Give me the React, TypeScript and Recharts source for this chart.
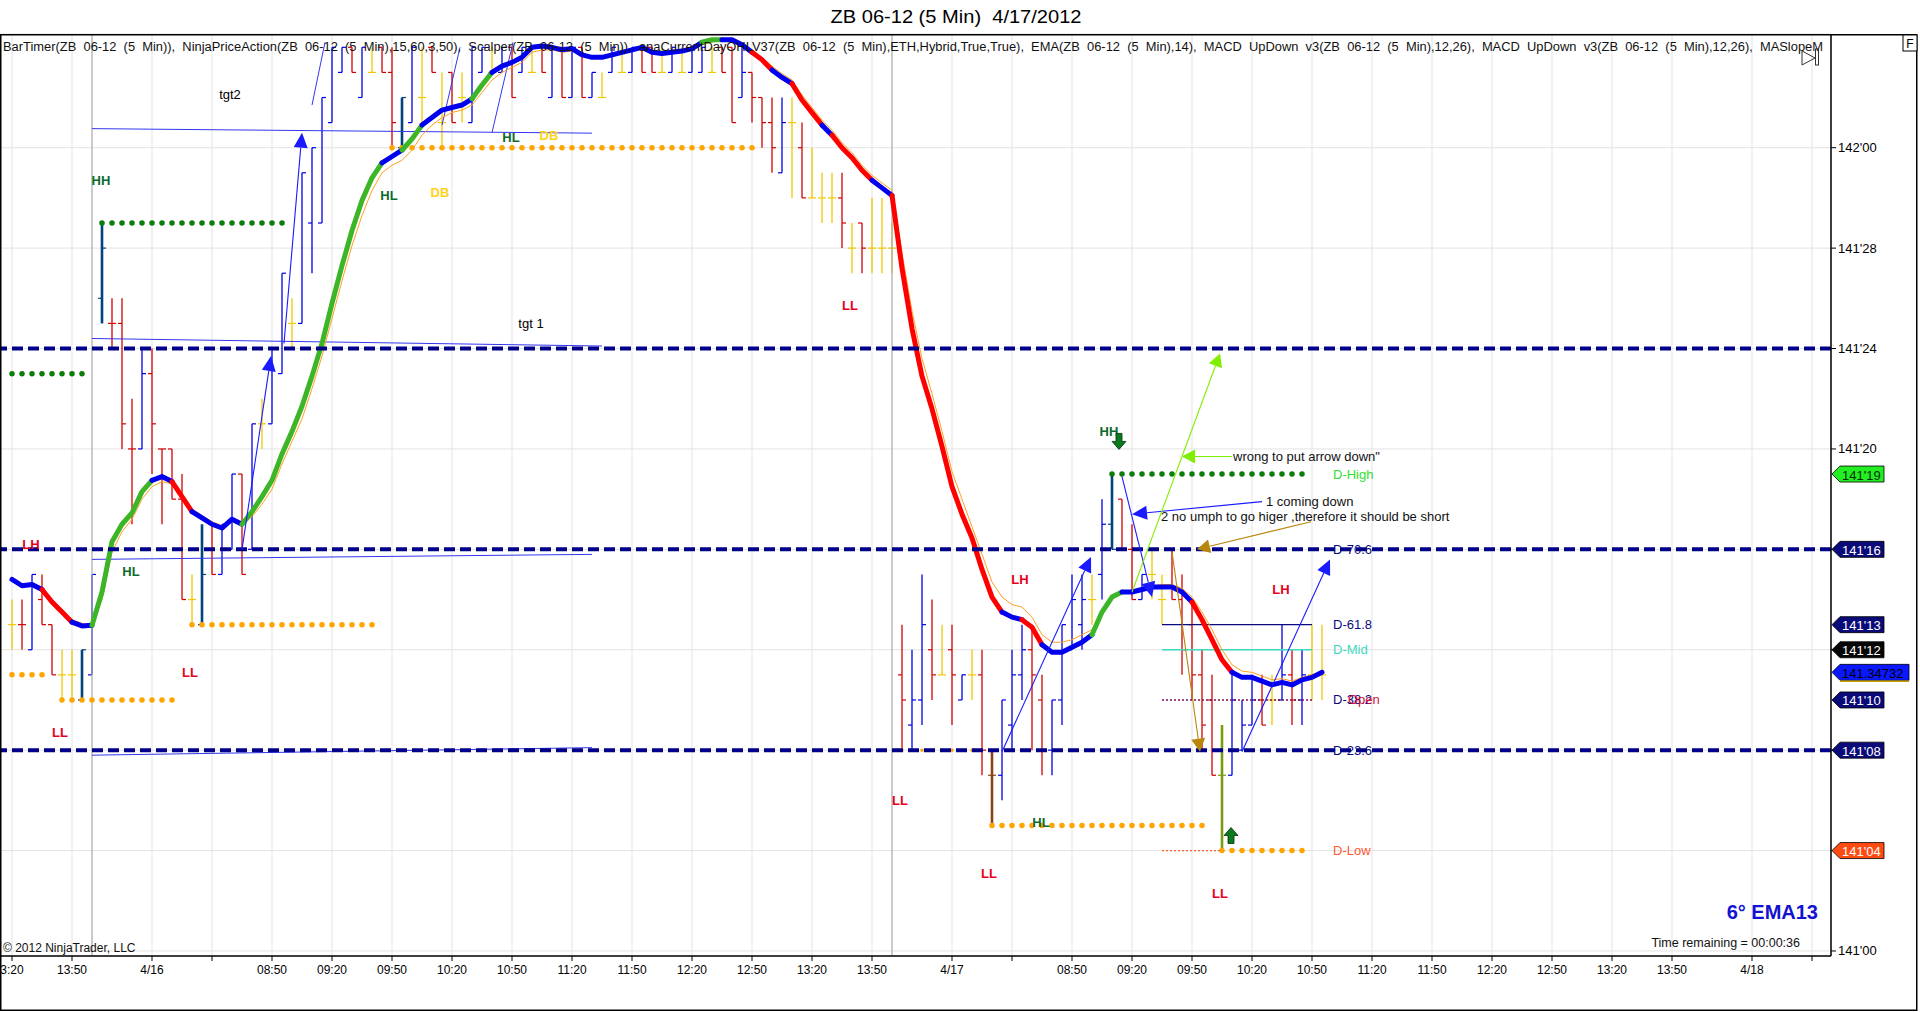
import React from "react";
import {
  ComposedChart, Bar, Line, XAxis, YAxis, CartesianGrid, ReferenceLine, ReferenceDot,
} from "recharts";

// prices are in 32nds above 141'00 (so 19 = 141'19, 32 = 142'00)
const HIGH = [
  14, 14, 15, 15, 13, 12, 12, 12, 15, 29,
  26, 26, 22, 24, 24, 20, 20, 19, 15, 17,
  17, 17, 19, 19, 21, 22, 24, 27, 26, 31,
  32, 34, 36, 36, 36, 36, 36, 36, 36, 34,
  36, 36, 36, 35, 35, 35, 36, 36, 36, 36,
  36, 36, 36, 36, 36, 36, 36, 36, 35, 35,
  36, 36, 36, 36, 36, 36, 36, 36, 36, 36,
  36, 36, 36, 36, 35, 34, 34, 34, 34, 33,
  32, 31, 31, 31, 29, 29, 30, 30, 29, 13,
  12, 15, 14, 13, 13, 11, 12, 12, 8, 10,
  12, 13, 13, 11, 10, 13, 15, 15, 15, 18,
  19, 18, 17, 15, 16, 15, 16, 15, 14, 12,
  11, 9, 11, 10, 11, 11, 11, 13, 12, 12, 13, 13,
];
const LOW = [
  12, 12, 12, 13, 11, 10, 10, 10, 11, 25,
  24, 20, 17, 20, 19, 17, 18, 14, 13, 13,
  15, 15, 16, 15, 16, 20, 21, 23, 24, 25,
  27, 29, 33, 35, 35, 34, 35, 35, 32, 32,
  33, 33, 35, 32, 33, 33, 33, 35, 35, 35,
  34, 35, 35, 35, 34, 34, 34, 34, 34, 34,
  35, 35, 35, 35, 35, 35, 35, 35, 35, 35,
  35, 35, 33, 34, 33, 32, 31, 31, 30, 30,
  30, 29, 29, 28, 27, 27, 27, 27, 27, 8,
  8, 9, 10, 11, 9, 10, 10, 7, 5, 6,
  8, 10, 8, 7, 7, 9, 12, 12, 13, 14,
  16, 16, 14, 14, 14, 13, 14, 11, 10, 8,
  7, 4, 7, 8, 9, 9, 9, 10, 9, 9, 10, 10,
];
const OPEN = [
  13, 13, 12, 14, 13, 11, 11, 10, 11, 26,
  25, 25, 20, 20, 23, 20, 20, 18, 14, 13,
  17, 15, 16, 19, 16, 21, 21, 23, 25, 25,
  29, 29, 33, 35, 36, 34, 35, 36, 35, 32,
  33, 34, 36, 33, 35, 34, 33, 35, 35, 35,
  36, 35, 35, 36, 34, 36, 34, 36, 34, 34,
  35, 35, 35, 36, 36, 35, 35, 35, 35, 35,
  35, 36, 36, 34, 35, 34, 33, 31, 33, 32,
  30, 30, 30, 30, 28, 29, 28, 28, 28, 11,
  9, 10, 12, 11, 12, 10, 11, 11, 7, 7,
  9, 11, 12, 10, 8, 10, 12, 13, 14, 15,
  17, 18, 16, 14, 15, 14, 16, 14, 13, 11,
  10, 7, 7, 8, 9, 10, 10, 10, 11, 10, 11, 11,
];
const CLOSE = [
  13, 13, 15, 13, 11, 11, 11, 12, 15, 28,
  25, 21, 20, 23, 21, 20, 18, 14, 14, 15,
  15, 17, 19, 15, 21, 21, 24, 27, 25, 31,
  32, 34, 36, 36, 35, 36, 35, 35, 33, 34,
  36, 34, 35, 33, 33, 34, 36, 36, 35, 36,
  34, 36, 35, 35, 36, 34, 36, 34, 35, 34,
  36, 35, 36, 35, 35, 35, 36, 35, 36, 36,
  35, 35, 33, 35, 34, 33, 32, 33, 33, 30,
  30, 30, 30, 29, 28, 28, 28, 28, 28, 10,
  10, 13, 11, 11, 11, 11, 11, 8, 7, 10,
  11, 12, 11, 8, 10, 13, 14, 14, 14, 17,
  16, 16, 14, 15, 15, 14, 14, 12, 11, 9,
  7, 7, 10, 9, 10, 9, 10, 11, 10, 11, 11, 11,
];
// b up, r down, y doji, n/o/g painted bars
const BAR_COL =
  "yrbrryynbn" + "rrrbrrrryn" + "rbbrbybbyb" + "bbbbrbyrrn" + "byryrybbyb" +
  "rbyrbrbrby" + "bybrrybybb" + "yrrbrrrbyr" + "yyyryryyyr" + "bbryrbyrob" +
  "bbrrbbbbyb" + "nrrbyyrrrr" + "rgbbbrybrb" + "yy";

const EMA = [
  14.8, 14.55, 14.6, 14.4, 13.9, 13.5, 13.1, 12.95, 12.98, 14.3,
  16.3, 17.0, 17.45, 18.3, 18.75, 18.9, 18.7, 18.1, 17.5, 17.25,
  17.0, 16.85, 17.2, 17.0, 17.5, 18.1, 18.75, 19.8, 20.7, 21.7,
  22.9, 24.2, 25.8, 27.3, 28.7, 29.9, 30.8, 31.4, 31.65, 31.9,
  32.35, 32.9, 33.2, 33.5, 33.6, 33.7, 33.95, 34.5, 35.0, 35.25,
  35.4, 35.6, 36.0, 36.05, 36.0, 35.9, 35.95, 35.7, 35.6, 35.6,
  35.7, 35.8, 35.9, 36.0, 35.8, 35.75, 35.8, 35.85, 35.95, 36.2,
  36.3, 36.3, 36.3, 36.1, 35.8, 35.5, 35.1, 34.8, 34.55, 33.9,
  33.4, 32.9, 32.5, 32.0, 31.6, 31.1, 30.7, 30.4, 30.1, 27.2,
  24.8, 22.9, 21.6, 20.1, 18.5, 17.4, 16.45, 15.2, 14.1, 13.5,
  13.3, 13.2, 12.9, 12.2, 11.9, 11.9, 12.1, 12.3, 12.6, 13.5,
  14.1, 14.3, 14.3, 14.4, 14.5, 14.5, 14.5, 14.3, 13.9, 13.2,
  12.4, 11.6, 11.1, 10.9, 10.9, 10.75, 10.6, 10.7, 10.6, 10.8, 10.9, 11.1,
];
const EMA_SLOW = [
  14.9, 14.6, 14.6, 14.5, 14.0, 13.6, 13.2, 13.05, 13.0, 14.0,
  15.9, 16.7, 17.2, 18.0, 18.5, 18.7, 18.6, 18.1, 17.6, 17.35,
  17.1, 16.95, 17.1, 16.95, 17.3, 17.8, 18.4, 19.4, 20.3, 21.2,
  22.4, 23.7, 25.2, 26.7, 28.1, 29.3, 30.3, 31.0, 31.3, 31.5,
  31.9, 32.5, 32.9, 33.2, 33.4, 33.5, 33.7, 34.2, 34.7, 35.0,
  35.2, 35.4, 35.8, 35.9, 35.9, 35.8, 35.85, 35.65, 35.55, 35.55,
  35.65, 35.75, 35.85, 35.95, 35.8, 35.75, 35.8, 35.85, 35.9, 36.1,
  36.2, 36.3, 36.3, 36.1, 35.85, 35.6, 35.25, 34.95, 34.7, 34.1,
  33.6, 33.1, 32.7, 32.2, 31.8, 31.3, 30.9, 30.6, 30.3, 27.8,
  25.5, 23.6, 22.2, 20.7, 19.1, 18.0, 16.9, 15.8, 14.7, 14.1,
  13.8, 13.7, 13.3, 12.6, 12.3, 12.3, 12.4, 12.6, 12.8, 13.5,
  14.0, 14.3, 14.35, 14.45, 14.55, 14.6, 14.6, 14.45, 14.1, 13.5,
  12.8, 12.0, 11.4, 11.15, 11.1, 10.95, 10.8, 10.85, 10.75, 10.9, 11.0, 11.15,
];
// slope of each EMA segment i -> i+1 : u up, d down, f flat
const TREND =
  "fff" + "ddd" + "ff" + "uuuuuu" + "ff" + "dd" + "fffff" + "uuuuuuuuuuuuuu" +
  "ff" + "uu" + "fffff" + "uu" + "fffffffffffffffffffff" + "uu" + "fff" + "dd" +
  "ff" + "ddd" + "f" + "dddd" + "ff" + "ddddddddddd" + "ff" + "dd" + "fffff" +
  "uuu" + "fffffff" + "dddd" + "fffffffff";

const X_TICKS = [0, 6, 14, 20, 26, 32, 38, 44, 50, 56, 62, 68, 74, 80, 86,
  94, 100, 106, 112, 118, 124, 130, 136, 142, 148, 154, 160, 166, 174, 180];
const X_LABELS = ["3:20", "13:50", "4/16", "", "08:50", "09:20", "09:50", "10:20", "10:50",
  "11:20", "11:50", "12:20", "12:50", "13:20", "13:50",
  "4/17", "", "08:50", "09:20", "09:50", "10:20", "10:50", "11:20", "11:50", "12:20",
  "12:50", "13:20", "13:50", "4/18", ""];
const Y_TICKS = [0, 4, 8, 12, 16, 20, 24, 28, 32];
const SESSION_BREAKS = [8, 88];

const NAVY_LEVELS = [24, 16, 8];
// [from bar, to bar, price]
const GREEN_DOTS = [[9, 28, 29], [0, 8, 23], [110, 130, 19]];
const ORANGE_DOTS = [[0, 4, 11], [5, 17, 10], [18, 37, 13], [38, 75, 32], [98, 120, 5], [121, 130, 4]];
const SMALL_ORANGE_DOTS = [[89, 97, 8]];
// [x1, y1, x2, y2]
const TREND_LINES = [
  [8, 32.76, 58, 32.58], [8, 24.4, 59, 24.1], [8, 15.6, 58, 15.8], [8, 7.8, 58, 8.1],
  [30, 33.7, 31.3, 36.2], [43, 32.9, 44.8, 36.0], [48, 32.6, 50.1, 36.2],
];
const BLUE_ARROWS = [
  [23, 16.0, 25.9, 23.7], [27.2, 24.2, 29.0, 32.6], [99, 7.94, 107.9, 15.7],
  [123, 7.94, 131.8, 15.6], [111, 18.9, 114, 14.1], [125, 17.9, 112, 17.4],
];
const LIME_ARROWS = [[112, 14.3, 120.8, 23.8], [122, 19.7, 117, 19.7]];
const GOLD_ARROWS = [[129.9, 17.1, 118.5, 16.0], [116, 15.9, 118.8, 7.94]];

// swing labels: [text, bar, price]
const SWING_LABELS: [string, number, number][] = [
  ["HH", 8.9, 30.7], ["HL", 37.7, 30.1], ["DB", 42.8, 30.2], ["HL", 49.9, 32.4], ["DB", 53.7, 32.5],
  ["LH", 1.9, 16.2], ["HL", 11.9, 15.1], ["LL", 17.8, 11.1], ["LL", 4.8, 8.7], ["LL", 83.8, 25.7],
  ["LH", 100.8, 14.8], ["LL", 88.8, 6.0], ["LL", 97.7, 3.1], ["HL", 102.9, 5.1], ["HH", 109.7, 20.7],
  ["LH", 126.9, 14.4], ["LL", 120.8, 2.3],
];
const NOTES: [string, number, number][] = [
  ["tgt2", 21.8, 34.1],
  ["tgt 1", 51.9, 25.0],
];
const COMMENTS: [string, number, number][] = [
  ["wrong to put arrow down\"", 122.1, 19.7],
  ["1 coming down", 125.4, 17.9],
  ["2 no umph to go higer ,therefore it should be short", 114.9, 17.3],
];
const DAY_LEVELS: [string, number][] = [
  ["D-High", 19], ["D-70.6", 16], ["D-61.8", 13], ["D-Mid", 12], ["D-38.2", 10], ["D-23.6", 8], ["D-Low", 4],
];
const DAY_LEVEL_START = 115;
const DAY_LEVEL_END = 130;
const DAY_LABEL_X = 132.1;
const PRICE_TAGS: [string, number, string][] = [
  ["141'19", 19, "lime"], ["141'16", 16, "navy"], ["141'13", 13, "navy"], ["141'12", 12, "black"],
  ["141.34732", 11.1, "blue"], ["141'10", 10, "navy"], ["141'08", 8, "navy"], ["141'04", 4, "orange"],
];
const HH_DOWN_ARROW = [110.7, 20.3];
const LL_UP_ARROW = [121.9, 4.6];

const FONT = "Arial, 'Liberation Sans', Helvetica, sans-serif";
const X_MIN = -1.2, X_MAX = 181.9;
const Y_MIN = -0.2, Y_MAX = 36.53;

const BAR_COLORS: Record<string, string> = {
  b: "#0000e6", r: "#d40000", y: "#f2c800", n: "#00447f", o: "#8b4513", g: "#7a9a10",
};
const TREND_COLORS: Record<string, string> = { u: "#3cb527", d: "#ff0000", f: "#0000ee" };
const LABEL_COLORS: Record<string, string> = {
  HH: "#0b6b2c", HL: "#0b6b2c", LL: "#e8001c", LH: "#e8001c", DB: "#ffd21a",
};
const LEVEL_COLORS: Record<string, string> = {
  "D-High": "#2fe02f", "D-Mid": "#3fd8c0", "D-Low": "#ff5a30",
};
const TAG_STYLE: Record<string, { bg: string; fg: string; w: number }> = {
  lime: { bg: "#22ee22", fg: "#063006", w: 52 },
  navy: { bg: "#0a0a78", fg: "#ffffff", w: 52 },
  black: { bg: "#050505", fg: "#ffffff", w: 52 },
  blue: { bg: "#0a18ff", fg: "#000000", w: 77 },
  orange: { bg: "#ff4a12", fg: "#ffffff", w: 52 },
};

const LEGEND =
  "BarTimer(ZB  06-12  (5  Min)),  NinjaPriceAction(ZB  06-12  (5  Min),15,60,3,50),  Scalper(ZB  06-12  (5  Min)),  anaCurrentDayOHLV37(ZB  06-12  (5  Min),ETH,Hybrid,True,True),  EMA(ZB  06-12  (5  Min),14),  MACD  UpDown  v3(ZB  06-12  (5  Min),12,26),  MACD  UpDown  v3(ZB  06-12  (5  Min),12,26),  MASlopeM";

const fmtPrice = (v: number) => {
  const big = v >= 32 ? 142 : 141;
  const frac = v >= 32 ? v - 32 : v;
  return `${big}'${String(frac).padStart(2, "0")}`;
};
const fmtTime = (v: number) => {
  const k = X_TICKS.indexOf(v);
  return k >= 0 ? X_LABELS[k] : "";
};

// axis prices hidden behind a price tag
const covered = (v: number) => PRICE_TAGS.some(([, p]) => Math.abs(p - v) < 0.5);

const PriceTick = (p: any) => {
  const { x, y, payload } = p;
  if (covered(payload.value)) return <g />;
  return (
    <text x={x} y={y} fill="#000" fontSize={13} fontFamily={FONT} textAnchor="start" dominantBaseline="central">
      {fmtPrice(payload.value)}
    </text>
  );
};

const OhlcShape = (p: any) => {
  const { x, y, width, height, payload } = p;
  if (!payload || height == null || isNaN(y)) return <g />;
  const top = Math.min(y, y + height);
  const h = Math.abs(height);
  const cx = x + width / 2;
  const { hi, lo, open, close, col } = payload;
  const yOf = (v: number) => top + ((hi - v) / (hi - lo)) * h;
  const thick = col === "n" || col === "o" || col === "g";
  const c = BAR_COLORS[col];
  return (
    <g stroke={c}>
      <line x1={cx} x2={cx} y1={top} y2={top + h} strokeWidth={thick ? 2.6 : 1.3} />
      <line x1={cx - 4} x2={cx} y1={yOf(open)} y2={yOf(open)} strokeWidth={1.2} />
      <line x1={cx} x2={cx + 4} y1={yOf(close)} y2={yOf(close)} strokeWidth={1.2} />
    </g>
  );
};

const arrowShape = (color: string, head: number, half: number) => (p: any) => {
  const { x1, y1, x2, y2 } = p;
  if ([x1, y1, x2, y2].some((n) => typeof n !== "number" || isNaN(n))) return <g />;
  const a = Math.atan2(y2 - y1, x2 - x1);
  const bx = x2 - head * Math.cos(a);
  const by = y2 - head * Math.sin(a);
  const nx = -Math.sin(a) * half;
  const ny = Math.cos(a) * half;
  return (
    <g>
      <line x1={x1} y1={y1} x2={bx} y2={by} stroke={color} strokeWidth={1.1} />
      <polygon points={`${x2},${y2} ${bx + nx},${by + ny} ${bx - nx},${by - ny}`} fill={color} />
    </g>
  );
};

const textShape = (t: string, color: string, size: number, anchor: string, weight = "normal") => (p: any) => (
  <text x={p.cx} y={p.cy} fill={color} fontSize={size} fontFamily={FONT} fontWeight={weight}
    textAnchor={anchor} dominantBaseline="central" style={{ whiteSpace: "pre" }}>{t}</text>
);

const tagShape = (t: string, kind: string) => (p: any) => {
  const s = TAG_STYLE[kind];
  const x0 = p.cx + 1;
  const y0 = p.cy;
  return (
    <g>
      <polygon points={`${x0},${y0} ${x0 + 8},${y0 - 8} ${x0 + s.w},${y0 - 8} ${x0 + s.w},${y0 + 8} ${x0 + 8},${y0 + 8}`}
        fill={s.bg} stroke="#000" strokeWidth={0.8} />
      {kind === "blue" && <line x1={x0 + 8} x2={x0 + s.w} y1={y0 + 9} y2={y0 + 9} stroke="#c8a000" strokeWidth={1.5} />}
      <text x={x0 + 10} y={y0 + 1} fill={s.fg} fontSize={13} fontFamily={FONT} dominantBaseline="central">{t}</text>
    </g>
  );
};

const blockArrow = (down: boolean) => (p: any) => {
  const { cx, cy } = p;
  const d = down ? 1 : -1;
  const pts = [
    [cx - 3, cy - 8 * d], [cx + 3, cy - 8 * d], [cx + 3, cy], [cx + 7, cy],
    [cx, cy + 8 * d], [cx - 7, cy], [cx - 3, cy],
  ].map((q) => q.join(",")).join(" ");
  return <polygon points={pts} fill="#0a7a1e" stroke="#06300c" strokeWidth={0.8} />;
};

function trendRuns() {
  const runs: { c: string; pts: { i: number; v: number }[] }[] = [];
  for (let k = 0; k < TREND.length; k++) {
    const c = TREND[k];
    const last = runs[runs.length - 1];
    if (last && last.c === c) last.pts.push({ i: k + 1, v: EMA[k + 1] });
    else runs.push({ c, pts: [{ i: k, v: EMA[k] }, { i: k + 1, v: EMA[k + 1] }] });
  }
  return runs;
}

export default function App() {
  const rows = HIGH.map((h, i) => ({
    i, range: [LOW[i], h], hi: h, lo: LOW[i], open: OPEN[i], close: CLOSE[i], col: BAR_COL[i], slow: EMA_SLOW[i],
  }));
  const runs = trendRuns();

  return (
    <div style={{ position: "relative", width: 1920, height: 1012, background: "#fff", fontFamily: FONT }}>
      <style>{"body{margin:0;background:#fff}"}</style>
      <ComposedChart width={1920} height={1012} data={rows} margin={{ top: 34, right: 30, bottom: 26, left: 0 }}>
        <CartesianGrid stroke="#e3e3e3" strokeWidth={1} />
        <XAxis dataKey="i" type="number" domain={[X_MIN, X_MAX]} allowDataOverflow ticks={X_TICKS} interval={0}
          tickFormatter={fmtTime} tick={{ fontSize: 12, fill: "#000", fontFamily: FONT }} tickSize={5} tickMargin={4}
          axisLine={{ stroke: "#000", strokeWidth: 1.5 }} tickLine={{ stroke: "#000" }} height={30} />
        <YAxis orientation="right" type="number" domain={[Y_MIN, Y_MAX]} allowDataOverflow ticks={Y_TICKS} interval={0}
          tick={<PriceTick />} tickSize={5} tickMargin={2}
          axisLine={{ stroke: "#000", strokeWidth: 1.5 }} tickLine={{ stroke: "#000" }} width={59} />

        {SESSION_BREAKS.map((x) => (
          <ReferenceLine key={`s${x}`} x={x} stroke="#a8a8a8" strokeWidth={1.2} />
        ))}

        <Bar dataKey="range" barSize={8} shape={OhlcShape} isAnimationActive={false} />

        {TREND_LINES.map(([a, b, c, d], k) => (
          <ReferenceLine key={`t${k}`} segment={[{ x: a, y: b }, { x: c, y: d }]} stroke="#3535f0" strokeWidth={1} />
        ))}

        {GREEN_DOTS.map(([a, b, v], k) => (
          <ReferenceLine key={`g${k}`} segment={[{ x: a, y: v }, { x: b, y: v }]} stroke="#0a7d0a"
            strokeWidth={5.5} strokeDasharray="0 10" strokeLinecap="round" />
        ))}
        {ORANGE_DOTS.map(([a, b, v], k) => (
          <ReferenceLine key={`o${k}`} segment={[{ x: a, y: v }, { x: b, y: v }]} stroke="#ffa500"
            strokeWidth={5.5} strokeDasharray="0 10" strokeLinecap="round" />
        ))}
        {SMALL_ORANGE_DOTS.map(([a, b, v], k) => (
          <ReferenceLine key={`so${k}`} segment={[{ x: a, y: v }, { x: b, y: v }]} stroke="#ffa500"
            strokeWidth={3.5} strokeDasharray="0 10" strokeLinecap="round" />
        ))}

        <ReferenceLine segment={[{ x: DAY_LEVEL_START, y: 13 }, { x: DAY_LEVEL_END, y: 13 }]} stroke="#0a0a80" strokeWidth={1.2} />
        <ReferenceLine segment={[{ x: DAY_LEVEL_START, y: 12 }, { x: DAY_LEVEL_END, y: 12 }]} stroke="#3fd8c0" strokeWidth={1.5} />
        <ReferenceLine segment={[{ x: DAY_LEVEL_START, y: 10 }, { x: DAY_LEVEL_END, y: 10 }]} stroke="#7a1050"
          strokeWidth={1.6} strokeDasharray="2 2" />
        <ReferenceLine segment={[{ x: DAY_LEVEL_START, y: 4 }, { x: 121, y: 4 }]} stroke="#ff6030"
          strokeWidth={1.2} strokeDasharray="2 2" />

        <Line dataKey="slow" stroke="#ffa020" strokeWidth={1} dot={false} isAnimationActive={false} />
        {runs.map((r, k) => (
          <Line key={`e${k}`} data={r.pts} dataKey="v" stroke={TREND_COLORS[r.c]} strokeWidth={5}
            strokeLinejoin="round" strokeLinecap="round" dot={false} isAnimationActive={false} />
        ))}

        {NAVY_LEVELS.map((v) => (
          <ReferenceLine key={`n${v}`} y={v} stroke="#000088" strokeWidth={4} strokeDasharray="11 5" />
        ))}

        {BLUE_ARROWS.map(([a, b, c, d], k) => (
          <ReferenceLine key={`ba${k}`} segment={[{ x: a, y: b }, { x: c, y: d }]} stroke="#1a1aff"
            shape={arrowShape("#1a1aff", 15, 7)} />
        ))}
        {LIME_ARROWS.map(([a, b, c, d], k) => (
          <ReferenceLine key={`la${k}`} segment={[{ x: a, y: b }, { x: c, y: d }]} stroke="#80ee00"
            shape={arrowShape("#80ee00", 13, 7)} />
        ))}
        {GOLD_ARROWS.map(([a, b, c, d], k) => (
          <ReferenceLine key={`ga${k}`} segment={[{ x: a, y: b }, { x: c, y: d }]} stroke="#b8860b"
            shape={arrowShape("#b8860b", 13, 7)} />
        ))}

        {SWING_LABELS.map(([t, x, y], k) => (
          <ReferenceDot key={`sl${k}`} x={x} y={y} r={0} ifOverflow="visible"
            shape={textShape(t, LABEL_COLORS[t], 13, "middle", "bold")} />
        ))}
        {NOTES.map(([t, x, y], k) => (
          <ReferenceDot key={`nt${k}`} x={x} y={y} r={0} ifOverflow="visible" shape={textShape(t, "#000", 13, "middle")} />
        ))}
        {COMMENTS.map(([t, x, y], k) => (
          <ReferenceDot key={`cm${k}`} x={x} y={y} r={0} ifOverflow="visible" shape={textShape(t, "#111", 13, "start")} />
        ))}
        {DAY_LEVELS.map(([t, v]) => (
          <ReferenceDot key={t} x={DAY_LABEL_X} y={v} r={0} ifOverflow="visible"
            shape={textShape(t, LEVEL_COLORS[t] || "#0a0a80", 13, "start")} />
        ))}
        <ReferenceDot x={DAY_LABEL_X + 1.5} y={10} r={0} ifOverflow="visible" shape={textShape("Open", "#d0103a", 13, "start")} />

        <ReferenceDot x={HH_DOWN_ARROW[0]} y={HH_DOWN_ARROW[1]} r={0} ifOverflow="visible" shape={blockArrow(true)} />
        <ReferenceDot x={LL_UP_ARROW[0]} y={LL_UP_ARROW[1]} r={0} ifOverflow="visible" shape={blockArrow(false)} />

        {PRICE_TAGS.map(([t, v, kind]) => (
          <ReferenceDot key={t} x={X_MAX} y={v} r={0} ifOverflow="visible" shape={tagShape(t, kind)} />
        ))}
      </ComposedChart>

      <svg width={1920} height={1012} style={{ position: "absolute", left: 0, top: 0, pointerEvents: "none" }}>
        <text x={956} y={17} textAnchor="middle" dominantBaseline="central" fontSize={18} fontFamily={FONT}
          textLength={251} lengthAdjust="spacingAndGlyphs" style={{ whiteSpace: "pre" }}>
          ZB 06-12 (5 Min)  4/17/2012
        </text>
        <rect x={0.75} y={34.75} width={1916} height={975.5} fill="none" stroke="#000" strokeWidth={1.5} />
        <text x={3} y={47} dominantBaseline="central" fontSize={12.5} fontFamily={FONT} fill="#111"
          textLength={1820} lengthAdjust="spacingAndGlyphs" style={{ whiteSpace: "pre" }}>{LEGEND}</text>
        <rect x={1903} y={35} width={14} height={16} fill="#fff" stroke="#000" strokeWidth={1} />
        <text x={1910} y={43.5} textAnchor="middle" dominantBaseline="central" fontSize={12} fontFamily={FONT}>F</text>
        <polygon points="1802,51 1815,58 1802,65" fill="none" stroke="#333" strokeWidth={1} />
        <rect x={1815.5} y={49} width={3} height={16} fill="none" stroke="#333" strokeWidth={1} />
        <text x={3} y={948} dominantBaseline="central" fontSize={12} fontFamily={FONT} fill="#111">© 2012 NinjaTrader, LLC</text>
        <text x={1818} y={912} textAnchor="end" dominantBaseline="central" fontSize={20} fontWeight="bold"
          fontFamily={FONT} fill="#1212d2">6° EMA13</text>
        <text x={1800} y={943} textAnchor="end" dominantBaseline="central" fontSize={12.5} fontFamily={FONT}
          fill="#111">Time remaining = 00:00:36</text>
      </svg>
    </div>
  );
}
